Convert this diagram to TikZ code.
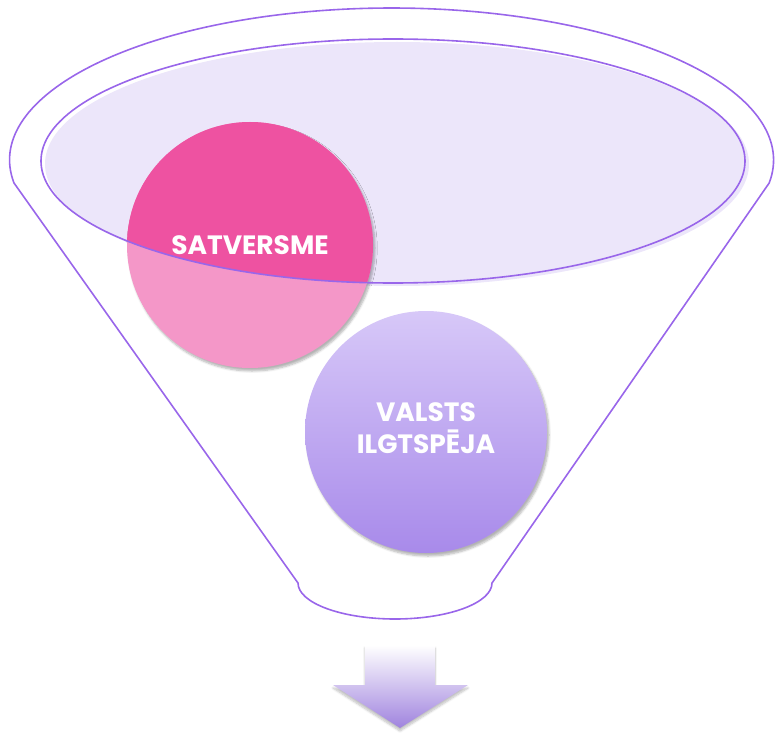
\documentclass[tikz,border=0pt]{standalone}
\usepackage{fontspec}
\setmainfont{Poppins}
\usetikzlibrary{shadows.blur}
\begin{document}
\begin{tikzpicture}[x=1pt,y=1pt,
  rim/.style={draw=funnel,line width=1.6pt},
  bubble/.style={circle,minimum size=#1,inner sep=0pt,
    blur shadow={shadow blur steps=6,shadow xshift=2pt,shadow yshift=-3pt,shadow opacity=30}},
  caption/.style={text=white,font=\bfseries\fontsize{26.5}{32}\selectfont,align=center}]
\definecolor{funnel}{HTML}{9966EA}
\definecolor{surface}{HTML}{ECE6FA}
\definecolor{rose}{HTML}{EE52A1}
\definecolor{blush}{HTML}{F497C8}
\definecolor{lilac}{HTML}{D7C8F8}
\definecolor{amethyst}{HTML}{A88AEA}
\useasboundingbox (0,0) rectangle (776,-733);
\draw[rim] (14,-183) arc[start angle=188.7,end angle=-8.7,x radius=382pt,y radius=152pt]
  -- (492,-583) arc[start angle=0,end angle=-180,x radius=97pt,y radius=36pt] -- cycle;
\fill[surface] (397,-164) ellipse[x radius=352pt,y radius=122pt];
\node[bubble=246pt,fill=blush] (satv) at (250,-245) {};
\begin{scope}
  \clip (393,-161) ellipse[x radius=352pt,y radius=122pt];
  \fill[rose] (satv) circle[radius=123pt];
\end{scope}
\draw[rim] (393,-161) ellipse[x radius=352pt,y radius=122pt];
\node[caption] at (satv) {SATVERSME};
\node[bubble=242pt,top color=lilac,bottom color=amethyst] (ilgt) at (426,-432) {};
\node[caption] at ([yshift=4pt]ilgt) {VALSTS\\ILGTSPĒJA};
\path[top color=white,bottom color=amethyst!95!black,
  blur shadow={shadow blur steps=6,shadow xshift=0pt,shadow yshift=-3pt,shadow opacity=25}]
  (365,-645) -- (435,-645) -- (435,-685) -- (468,-685) -- (400,-728)
  -- (333,-685) -- (365,-685) -- cycle;
\end{tikzpicture}
\end{document}
